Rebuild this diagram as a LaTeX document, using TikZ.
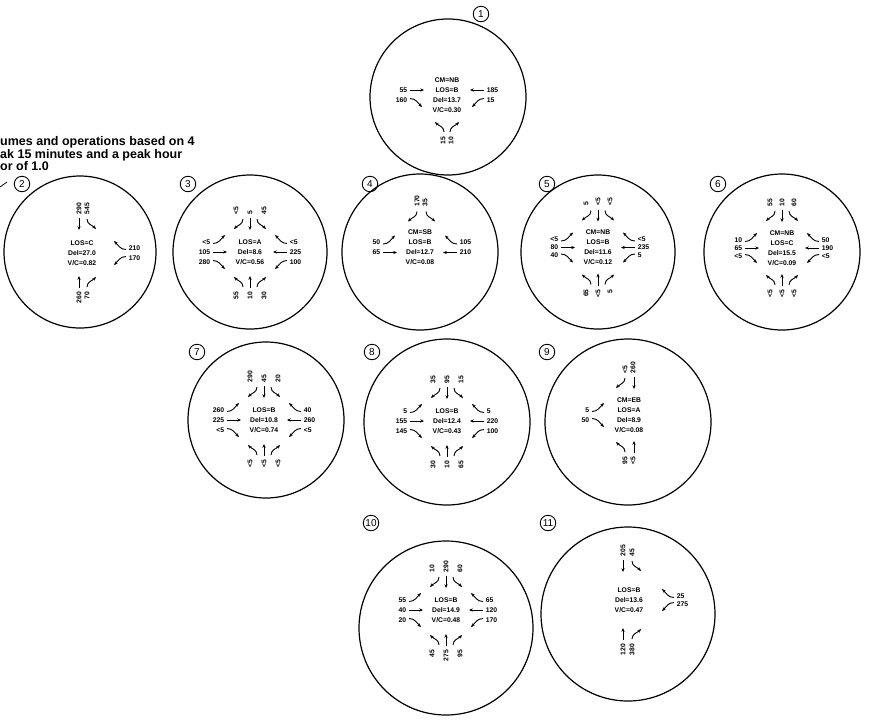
\documentclass[tikz,border=0pt]{standalone}
\usepackage{fontspec}
\setmainfont{Liberation Sans}
\usetikzlibrary{arrows.meta}

% West approach: row y, label, arrow (up-curve / straight / down-curve)
\newcommand\mvWU[3]{\node[num,anchor=east] (#1) at (-39,#2) {#3};
  \draw[mv] (-37,#2-1.5) to[out=0,in=225] (-25,#2+7);}
\newcommand\mvWS[3]{\node[num,anchor=east] (#1) at (-39,#2) {#3};
  \draw[mv] (-37,#2) -- (-23,#2);}
\newcommand\mvWD[3]{\node[num,anchor=east] (#1) at (-39,#2) {#3};
  \draw[mv] (-37,#2+1.5) to[out=0,in=135] (-25,#2-7);}
% East approach
\newcommand\mvEU[3]{\node[num,anchor=west] (#1) at (39,#2) {#3};
  \draw[mv] (37,#2-1.5) to[out=180,in=-45] (25,#2+7);}
\newcommand\mvES[3]{\node[num,anchor=west] (#1) at (39,#2) {#3};
  \draw[mv] (37,#2) -- (23,#2);}
\newcommand\mvED[3]{\node[num,anchor=west] (#1) at (39,#2) {#3};
  \draw[mv] (37,#2+1.5) to[out=180,in=45] (25,#2-7);}
% North approach: name, label x, arrow x, tip level, label
\newcommand\mvNS[5]{\node[num,rotate=90,anchor=west] (#1) at (#2,#4+15) {#5};
  \draw[mv] (#3,#4+12) -- (#3,#4);}
\newcommand\mvNL[5]{\node[num,rotate=90,anchor=west] (#1) at (#2,#4+15) {#5};
  \draw[mv] (#3,#4+11) to[out=-90,in=45] (#3-9,#4+1);}
\newcommand\mvNR[5]{\node[num,rotate=90,anchor=west] (#1) at (#2,#4+15) {#5};
  \draw[mv] (#3,#4+11) to[out=-90,in=135] (#3+9,#4+1);}
% South approach
\newcommand\mvSS[5]{\node[num,rotate=90,anchor=east] (#1) at (#2,-#4-15) {#5};
  \draw[mv] (#3,-#4-12) -- (#3,-#4);}
\newcommand\mvSL[5]{\node[num,rotate=90,anchor=east] (#1) at (#2,-#4-15) {#5};
  \draw[mv] (#3,-#4-11) to[out=90,in=-45] (#3-9,-#4-1);}
\newcommand\mvSR[5]{\node[num,rotate=90,anchor=east] (#1) at (#2,-#4-15) {#5};
  \draw[mv] (#3,-#4-11) to[out=90,in=-135] (#3+9,-#4-1);}

\begin{document}
\begin{tikzpicture}[x=1pt,y=1pt,
  ring/.style={circle, draw, line width=1.2pt, inner sep=0pt},
  mv/.style={line width=0.9pt, -{Stealth[length=3.8pt,width=3.2pt]}},
  num/.style={font=\fontsize{6.8}{8}\selectfont\bfseries, inner sep=0.6pt},
  info/.style={font=\fontsize{6.8}{10}\selectfont\bfseries, align=center, inner sep=0pt},
  tag/.style={circle, draw, line width=0.9pt, inner sep=0.5pt, minimum size=15.5pt, font=\fontsize{10}{10}\selectfont},
  note/.style={font=\fontsize{12.5}{12.8}\selectfont\bfseries, align=left, inner sep=0pt, anchor=north west}]
\useasboundingbox (0,0) rectangle (892,-724);

% explanatory note (left edge trimmed)
\node[note] (note) at (0,-136) {umes and operations based on 4\\ak 15 minutes and a peak hour\\or of 1.0};
\coordinate (lead) at (0,-187);
\coordinate (leadend) at (7,-182);
\draw[line width=0.8pt] (lead) -- (leadend);

% ---------- intersection 1 ----------
\node[tag] (l1) at (481,-14) {1};
\begin{scope}[shift={(447,-95)}]
  \node[ring, minimum size=156pt] (r1) at (1,-2) {};
  \node[info] (t1) at (0,0) {CM=NB\\LOS=B\\Del=13.7\\V/C=0.30};
  \mvWS{c1w1}{5}{55}
  \mvWD{c1w2}{-5}{160}
  \mvES{c1e1}{5}{185}
  \mvED{c1e2}{-5}{15}
  \mvSL{c1s1}{-4}{-3}{26}{15}
  \mvSR{c1s2}{4}{3}{26}{10}
\end{scope}

% ---------- intersection 2 ----------
\node[tag] (l2) at (22,-184) {2};
\begin{scope}[shift={(82,-253)}]
  \node[ring, minimum size=152pt] (r2) at (-2,1) {};
  \node[info] (t2) at (0,0) {LOS=C\\Del=27.0\\V/C=0.82};
  \mvNS{c2n1}{-3}{-3}{23}{290}
  \mvNR{c2n2}{5}{5}{23}{545}
  \begin{scope}[xshift=7pt]
    \mvEU{c2e1}{5}{210}
    \mvED{c2e2}{-5}{170}
  \end{scope}
  \mvSS{c2s1}{-3}{-3}{23}{260}
  \mvSR{c2s2}{5}{5}{23}{70}
\end{scope}

% ---------- intersection 3 ----------
\node[tag] (l3) at (188,-184) {3};
\begin{scope}[shift={(250,-252)}]
  \node[ring, minimum size=154pt] (r3) at (0,0) {};
  \node[info] (t3) at (0,0) {LOS=A\\Del=8.6\\V/C=0.56};
  \mvNL{c3n1}{-14}{-7}{22}{<5}
  \mvNS{c3n2}{0}{0}{22}{5}
  \mvNR{c3n3}{14}{7}{22}{45}
  \mvWU{c3w1}{10}{<5}
  \mvWS{c3w2}{0}{105}
  \mvWD{c3w3}{-10}{280}
  \mvEU{c3e1}{10}{<5}
  \mvES{c3e2}{0}{225}
  \mvED{c3e3}{-10}{100}
  \mvSL{c3s1}{-14}{-7}{24}{55}
  \mvSS{c3s2}{0}{0}{24}{10}
  \mvSR{c3s3}{14}{7}{24}{30}
\end{scope}

% ---------- intersection 4 ----------
\node[tag] (l4) at (370,-184) {4};
\begin{scope}[shift={(420,-247.5)}]
  \node[ring, minimum size=156pt] (r4) at (0,-4.5) {};
  \node[info] (t4) at (0,0) {CM=SB\\LOS=B\\Del=12.7\\V/C=0.08};
  \mvNL{c4n1}{-3}{-3}{25}{170}
  \mvNR{c4n2}{5}{6}{25}{35}
  \mvWU{c4w1}{5}{50}
  \mvWS{c4w2}{-5}{65}
  \mvEU{c4e1}{5}{105}
  \mvES{c4e2}{-5}{210}
\end{scope}

% ---------- intersection 5 ----------
\node[tag] (l5) at (547,-184) {5};
\begin{scope}[shift={(598,-247.5)}]
  \node[ring, minimum size=154pt] (r5) at (0,-4.5) {};
  \node[info] (t5) at (0,0) {CM=NB\\LOS=B\\Del=11.6\\V/C=0.12};
  \mvNL{c5n1}{-12}{-7}{26}{5}
  \mvNS{c5n2}{0}{0}{26}{<5}
  \mvNR{c5n3}{12}{7}{26}{<5}
  \mvWU{c5w1}{8}{<5}
  \mvWS{c5w2}{0}{80}
  \mvWD{c5w3}{-8}{40}
  \mvEU{c5e1}{8}{<5}
  \mvES{c5e2}{0}{235}
  \mvED{c5e3}{-8}{5}
  \mvSL{c5s1}{-12}{-7}{26}{65}
  \mvSS{c5s2}{0}{0}{26}{<5}
  \mvSR{c5s3}{12}{7}{26}{5}
\end{scope}

% ---------- intersection 6 ----------
\node[tag] (l6) at (718,-184) {6};
\begin{scope}[shift={(782,-248)}]
  \node[ring, minimum size=156pt] (r6) at (0,-4) {};
  \node[info] (t6) at (0,0) {CM=NB\\LOS=C\\Del=15.5\\V/C=0.09};
  \mvNL{c6n1}{-12}{-7}{26}{55}
  \mvNS{c6n2}{0}{0}{26}{10}
  \mvNR{c6n3}{12}{7}{26}{60}
  \mvWU{c6w1}{8}{10}
  \mvWS{c6w2}{0}{65}
  \mvWD{c6w3}{-8}{<5}
  \mvEU{c6e1}{8}{50}
  \mvES{c6e2}{0}{190}
  \mvED{c6e3}{-8}{<5}
  \mvSL{c6s1}{-12}{-7}{26}{<5}
  \mvSS{c6s2}{0}{0}{26}{<5}
  \mvSR{c6s3}{12}{7}{26}{<5}
\end{scope}

% ---------- intersection 7 ----------
\node[tag] (l7) at (197,-352) {7};
\begin{scope}[shift={(264,-420)}]
  \node[ring, minimum size=156pt] (r7) at (2,0) {};
  \node[info] (t7) at (0,0) {LOS=B\\Del=10.8\\V/C=0.74};
  \mvNL{c7n1}{-14}{-7}{22}{290}
  \mvNS{c7n2}{0}{0}{22}{45}
  \mvNR{c7n3}{14}{7}{22}{20}
  \mvWU{c7w1}{10}{260}
  \mvWS{c7w2}{0}{225}
  \mvWD{c7w3}{-10}{<5}
  \mvEU{c7e1}{10}{40}
  \mvES{c7e2}{0}{260}
  \mvED{c7e3}{-10}{<5}
  \mvSL{c7s1}{-14}{-7}{24}{<5}
  \mvSS{c7s2}{0}{0}{24}{<5}
  \mvSR{c7s3}{14}{7}{24}{<5}
\end{scope}

% ---------- intersection 8 ----------
\node[tag] (l8) at (372,-352) {8};
\begin{scope}[shift={(447,-421)}]
  \node[ring, minimum size=166pt] (r8) at (0,-1) {};
  \node[info] (t8) at (0,0) {LOS=B\\Del=12.4\\V/C=0.43};
  \mvNL{c8n1}{-14}{-7}{22}{35}
  \mvNS{c8n2}{0}{0}{22}{95}
  \mvNR{c8n3}{14}{7}{22}{15}
  \mvWU{c8w1}{10}{5}
  \mvWS{c8w2}{0}{155}
  \mvWD{c8w3}{-10}{145}
  \mvEU{c8e1}{10}{5}
  \mvES{c8e2}{0}{220}
  \mvED{c8e3}{-10}{100}
  \mvSL{c8s1}{-14}{-7}{24}{30}
  \mvSS{c8s2}{0}{0}{24}{10}
  \mvSR{c8s3}{14}{7}{24}{65}
\end{scope}

% ---------- intersection 9 ----------
\node[tag] (l9) at (547,-352) {9};
\begin{scope}[shift={(629,-415)}]
  \node[ring, minimum size=166pt] (r9) at (-1,-7) {};
  \node[info] (t9) at (0,0) {CM=EB\\LOS=A\\Del=8.9\\V/C=0.08};
  \mvNL{c9n1}{-4}{-4}{26}{<5}
  \mvNS{c9n2}{4}{5}{26}{260}
  \mvWU{c9w1}{5}{5}
  \mvWD{c9w2}{-5}{50}
  \mvSL{c9s1}{-4}{-4}{26}{95}
  \mvSS{c9s2}{4}{5}{26}{<5}
\end{scope}

% ---------- intersection 10 ----------
\node[tag] (l10) at (371,-523) {10};
\begin{scope}[shift={(446,-610)}]
  \node[ring, minimum size=174pt] (r10) at (0,-18) {};
  \node[info] (t10) at (0,0) {LOS=B\\Del=14.9\\V/C=0.48};
  \mvNL{c10n1}{-14}{-7}{22}{10}
  \mvNS{c10n2}{0}{0}{22}{290}
  \mvNR{c10n3}{14}{7}{22}{60}
  \mvWU{c10w1}{10}{55}
  \mvWS{c10w2}{0}{40}
  \mvWD{c10w3}{-10}{20}
  \mvEU{c10e1}{10}{65}
  \mvES{c10e2}{0}{120}
  \mvED{c10e3}{-10}{170}
  \mvSL{c10s1}{-14}{-7}{24}{45}
  \mvSS{c10s2}{0}{0}{24}{275}
  \mvSR{c10s3}{14}{7}{24}{95}
\end{scope}

% ---------- intersection 11 ----------
\node[tag] (l11) at (548,-523) {11};
\begin{scope}[shift={(629,-600)}]
  \node[ring, minimum size=174pt] (r11) at (-1,-14) {};
  \node[info] (t11) at (0,0) {LOS=B\\Del=13.6\\V/C=0.47};
  \mvNS{c11n1}{-6}{-6}{28}{205}
  \mvNR{c11n2}{3}{3}{28}{45}
  \begin{scope}[xshift=8pt]
    \mvEU{c11e1}{4}{25}
    \mvED{c11e2}{-4}{275}
  \end{scope}
  \mvSS{c11s1}{-6}{-6}{28}{120}
  \mvSR{c11s2}{3}{3}{28}{380}
\end{scope}
\end{tikzpicture}
\end{document}
